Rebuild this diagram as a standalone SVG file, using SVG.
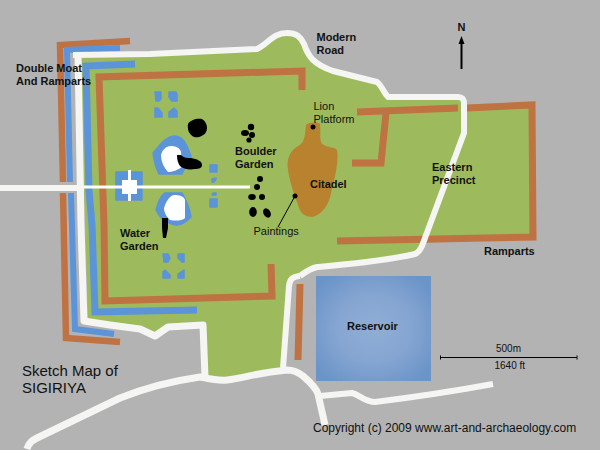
<svg xmlns="http://www.w3.org/2000/svg" width="600" height="450" viewBox="0 0 600 450">
<defs>
<radialGradient id="res" cx="50%" cy="50%" r="62%"><stop offset="0" stop-color="#8fadd6"/><stop offset="0.5" stop-color="#86a6d2"/><stop offset="1" stop-color="#6b94c8"/></radialGradient>
</defs>
<style>
.road{fill:none;stroke:#f5f5f3;stroke-linejoin:round;stroke-linecap:butt}
.ramp{fill:none;stroke:#bf7343;stroke-linejoin:miter}
.moat{fill:none;stroke:#5b94d8;stroke-linejoin:miter}
.pond{fill:#5b94d8;stroke:#5b94d8;stroke-width:1.500;stroke-linejoin:round}
.rock{fill:#000}
.white{fill:#fff}
text{font-family:"Liberation Sans",Arial,sans-serif;fill:#111}
.b{font-size:11px;font-weight:bold}
.r{font-size:11px}
.s{font-size:10px}
</style>
<rect width="600" height="450" fill="#b3b3b3"/>
<g id="land">
<path fill="#9dbb5c" d="M80 58L257 50Q270 40 280 33L300 38L310 62L333 73L377 82L388 97L463 97L465 108L532 103L532 238L420 243L417 253L317 268L293 277L288 282L282 370L267 372L227 380L204 377L202 325L168 327L155 337L140 328L110 325L88 318Z"/>
</g>
<g id="outer-ramparts">
<path class="ramp" stroke-width="6.500" d="M130 41L60 45L63 182"/>
<path class="ramp" stroke-width="6.500" d="M63 193L66 338L120 342"/>
</g>
<g id="outer-moat">
<path class="moat" stroke-width="6" d="M120 48L67 50L70 182"/>
<path class="moat" stroke-width="6" d="M71 193L75 329L114 334"/>
</g>
<g id="inner-moat">
<path class="moat" stroke-width="7" d="M135 64L86 66L89 190L92 225L95 312L197 310"/>
</g>
<g id="inner-ramparts">
<path class="ramp" stroke-width="7" d="M302 90L302 71L99 77L104 225L105 301L272 296L271 264"/>
<path class="ramp" stroke-width="7" d="M300 284L298 360"/>
<path class="ramp" stroke-width="7" d="M357 112L458 108M467 108L532 105L533 237L337 241"/>
<path class="ramp" stroke-width="7" d="M386 113L381 163L352 163"/>
</g>
<g id="roads">
<path class="road" stroke-width="6" d="M73 55L150 54L257 49C268 44 273 33 287 33C296 33 300 36 304 44C308 56 313 64 333 71L377 82C382 86 384 93 388 97L458 97C462 97 464 99 464 104L464 133L422 246C420 250 419 252 415 254C385 261 350 264 317 267C309 269 304 273 300 276"/>
<path class="road" stroke-width="7" d="M78 54L81 225L84 321L110 325L140 329L155 336L168 327L203 325L205 377"/>
<path class="road" stroke-width="6" d="M300 276C292 277 290 279 289 286L283 368"/>
<path class="road" stroke-width="7" d="M27 449C29 442 33 440 37 438L120 398C140 390 165 382 200 377C210 379 218 381 227 380C245 378 255 373 287 370C294 370 298 372 303 376C310 382 316 388 318 394L325 425"/>
<path class="road" stroke-width="6" d="M320 396L352 393C360 395 365 402 375 402C415 397 455 391 493 384"/>
<path class="road" stroke-width="6" d="M0 188L84 188"/>
</g>
<g id="citadel">
<path fill="#b8822f" d="M306 125C309 122 318 122 320 124C321 132 319 139 322 144C328 148 335 147 337 150C339 160 335 178 331 193C329 205 322 214 313 217C306 217 301 214 299 208C296 198 290 185 288 170C286 158 291 150 298 146C305 143 305 134 306 125Z"/>
</g>
<g id="ponds">
<path class="pond" d="M155 92H161V99L159 101H156ZM169 92H176L177 94V101H172L169 97ZM155 108L158 108L162 113V117H155ZM174 108L177 111V117H169V112Z"/>
<path class="pond" d="M163 254H168L170 258L168 262H164ZM178 254H184V262H182L178 258ZM165 270L170 275V278H163V272ZM184 270V278H178V274Z"/>
<path class="pond" d="M116 172H142V200H116Z"/>
<path class="pond" d="M210 165H217V172H210ZM210 199H217V207H210ZM212 179L216 178V179L214 182H212ZM213 193L216 193V195H212Z"/>
<path class="pond" d="M153 153C160 145 166 136 175 136C181 136 184 140 187 146L191 156C189 163 184 168 182 174L159 174C155 167 154 160 153 153Z"/>
<path class="pond" d="M156 210C158 203 160 196 165 193L182 193C186 200 190 209 191 217C186 222 182 225 177 225C172 225 167 222 163 220C160 217 158 214 156 210Z"/>
<path class="white" d="M161 155C162 150 166 146 171 146C176 146 180 148 181 152L182 167C178 170 172 172 168 172C164 168 161 161 161 155Z"/>
<path class="white" d="M164 208C166 202 169 196 174 195C179 195 184 196 185 200L185 218C182 221 175 221 170 220C167 217 164 213 164 208Z"/>
<path class="white" d="M122 180H128V170H131V180H137V194H131V201H128V194H122Z"/>
</g>
<g id="causeway"><path d="M84 187H250" stroke="#fff" stroke-width="3" fill="none"/></g>
<g id="reservoir">
<rect x="316" y="276" width="115" height="105" fill="url(#res)"/>
</g>
<g id="boulders">
<path class="rock" d="M188 124C190 120 197 118 202 119C207 122 208 128 206 132C204 136 198 138 194 137C189 135 187 129 188 124Z"/>
<path class="rock" d="M177 155L181 155C184 158 187 158 191 158C197 159 202 161 202 165C202 168 199 169 195 169C189 170 183 169 180 166C178 163 177 160 177 155Z"/>
<path class="rock" d="M162 218H168V228L166 238H163L162 228Z"/>
<circle class="rock" cx="251" cy="127" r="3.200"/>
<ellipse class="rock" cx="245" cy="133" rx="4" ry="3"/>
<circle class="rock" cx="252" cy="135" r="3"/>
<circle class="rock" cx="249" cy="140" r="2.600"/>
<circle class="rock" cx="260" cy="179" r="3"/>
<circle class="rock" cx="257" cy="187" r="3"/>
<ellipse class="rock" cx="252" cy="197" rx="3.800" ry="3"/>
<circle class="rock" cx="262" cy="197" r="3"/>
<ellipse class="rock" cx="253" cy="212" rx="3.800" ry="5"/>
<ellipse class="rock" cx="267" cy="213" rx="3.500" ry="5" transform="rotate(-30 267 213)"/>
</g>
<g id="markers">
<circle class="rock" cx="313" cy="127" r="2.500"/>
<circle class="rock" cx="295" cy="196" r="2.500"/>
<path d="M295 196L278 227" stroke="#000" stroke-width="1" fill="none"/>
</g>
<g id="north">
<path d="M461.500 69V42" stroke="#000" stroke-width="2" fill="none"/>
<path class="rock" d="M461.500 36L464.500 44H458.500Z"/>
<text class="b" x="461.500" y="30.500" text-anchor="middle">N</text>
</g>
<g id="scale">
<path d="M440.500 357.500H577M440.500 355.500V359.500M577 355.500V359.500" stroke="#000" stroke-width="1" fill="none"/>
<text class="s" x="496" y="352">500m</text>
<text class="s" x="494.500" y="369">1640 ft</text>
</g>
<g id="labels">
<text class="b" x="16" y="72">Double Moat</text>
<text class="b" x="16" y="85">And Ramparts</text>
<text class="b" x="316.500" y="41">Modern</text>
<text class="b" x="316.500" y="54">Road</text>
<text class="r" x="313.500" y="110">Lion</text>
<text class="r" x="313.500" y="123">Platform</text>
<text class="b" x="235" y="155">Boulder</text>
<text class="b" x="235" y="168">Garden</text>
<text class="b" x="310" y="188">Citadel</text>
<text class="b" x="432" y="171">Eastern</text>
<text class="b" x="432" y="184">Precinct</text>
<text class="r" x="253.500" y="235">Paintings</text>
<text class="b" x="120" y="237">Water</text>
<text class="b" x="120" y="250">Garden</text>
<text class="b" x="484" y="255">Ramparts</text>
<text class="b" x="347" y="330">Reservoir</text>
<text x="22" y="376" font-size="15">Sketch Map of</text>
<text x="22" y="393" font-size="15">SIGIRIYA</text>
<text x="313" y="432" font-size="12">Copyright (c) 2009 www.art-and-archaeology.com</text>
</g>
</svg>
